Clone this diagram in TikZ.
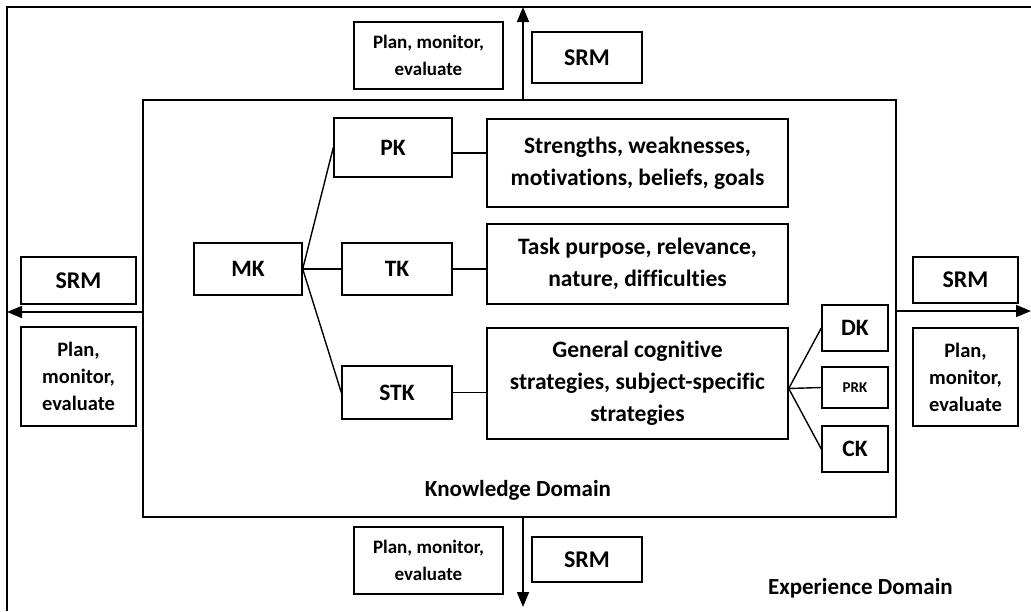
\documentclass[tikz,border=0pt]{standalone}
\usepackage{fontspec}
\setmainfont{Carlito}[Ligatures=NoCommon]
\usetikzlibrary{arrows.meta}
\begin{document}
\begin{tikzpicture}[x=1pt,y=-1pt,
  box/.style={draw,line width=1.4pt,align=center,inner sep=0pt,
    font=\bfseries\fontsize{23.5}{32}\selectfont},
  planbox/.style={box,font=\bfseries\fontsize{19}{27}\selectfont},
  sideplan/.style={box,font=\bfseries\fontsize{20.5}{27}\selectfont},
  srmbox/.style={box,font=\bfseries\fontsize{24}{28}\selectfont},
  link/.style={line width=1.4pt},
  flow/.style={line width=1.7pt,-{Triangle[length=15pt,width=12pt]}},
  domaintitle/.style={font=\bfseries\fontsize{23}{28}\selectfont,inner sep=0pt}]
\useasboundingbox (0,0) rectangle (1031,611);

% experience domain frame (open to the right and below)
\draw[line width=1.8pt] (7,611) -- (7,7) -- (1031,7);

% knowledge domain frame
\node[draw,line width=1.4pt,minimum width=753pt,minimum height=417pt,inner sep=0pt]
  (kd) at (519.5,308.5) {};
\node[domaintitle] (kdlabel) at (518,490) {Knowledge Domain};
\node[domaintitle,anchor=base east] (edlabel) at (953,594) {Experience Domain};

% regulation boxes around the frame
\node[planbox,minimum width=149pt,minimum height=67pt] (topplan) at (428.5,55.5) {Plan, monitor,\\evaluate};
\node[srmbox,minimum width=110pt,minimum height=51pt] (topsrm) at (587,57.5) {SRM};
\node[planbox,minimum width=149pt,minimum height=67pt] (botplan) at (428.5,560.5) {Plan, monitor,\\evaluate};
\node[srmbox,minimum width=110pt,minimum height=45pt] (botsrm) at (587,559.5) {SRM};
\node[srmbox,minimum width=115pt,minimum height=47pt] (leftsrm) at (78.5,280.5) {SRM};
\node[sideplan,minimum width=115pt,minimum height=99pt] (leftplan) at (78.5,376.5) {Plan,\\monitor,\\evaluate};
\node[srmbox,minimum width=105pt,minimum height=46pt] (rightsrm) at (965.5,280) {SRM};
\node[sideplan,minimum width=105pt,minimum height=98pt] (rightplan) at (965.5,377) {Plan,\\monitor,\\evaluate};

% arrow ends
\coordinate (topend) at (523,7);
\coordinate (botend) at (523,607);
\coordinate (leftend) at (7,312);
\coordinate (rightend) at (1031,311);
\draw[flow] (kd.north -| topend) -- (topend);
\draw[flow] (kd.south -| botend) -- (botend);
\draw[flow] (kd.west |- leftend) -- (leftend);
\draw[flow] (kd.east |- rightend) -- (rightend);

% knowledge tree
\node[box,minimum width=108pt,minimum height=52pt] (mk) at (248,269) {MK};
\node[box,minimum width=118pt,minimum height=59pt] (pk) at (393,147.5) {PK};
\node[box,minimum width=110pt,minimum height=52pt] (tk) at (397,269) {TK};
\node[box,minimum width=110pt,minimum height=53pt] (stk) at (397,392.5) {STK};
\node[box,minimum width=301pt,minimum height=88pt] (d1) at (637.5,163) {Strengths, weaknesses,\\motivations, beliefs, goals};
\node[box,minimum width=301pt,minimum height=80pt] (d2) at (637.5,264) {Task purpose, relevance,\\nature, difficulties};
\node[box,minimum width=301pt,minimum height=111pt] (d3) at (637.5,383.5) {General cognitive\\strategies, subject-specific\\strategies};
\node[box,minimum width=66pt,minimum height=46pt] (dk) at (855,328) {DK};
\node[box,minimum width=66pt,minimum height=41pt,font=\bfseries\fontsize{15}{18}\selectfont] (prk) at (855,387.5) {PRK};
\node[box,minimum width=66pt,minimum height=46pt] (ck) at (855,449) {CK};

\draw[link] (mk.east) -- (pk.west);
\draw[link] (mk.east) -- (tk.west);
\draw[link] (mk.east) -- (stk.west);
\draw[link] ([yshift=-5.5pt]pk.east) -- ([yshift=-5.5pt]pk.east -| d1.west);
\draw[link] (tk.east) -- (tk.east -| d2.west);
\draw[link] (stk.east) -- (stk.east -| d3.west);
\draw[link] ([yshift=-5pt]d3.east) -- (dk.west);
\draw[link] ([yshift=-5pt]d3.east) -- (prk.west);
\draw[link] ([yshift=-5pt]d3.east) -- (ck.west);
\end{tikzpicture}
\end{document}
